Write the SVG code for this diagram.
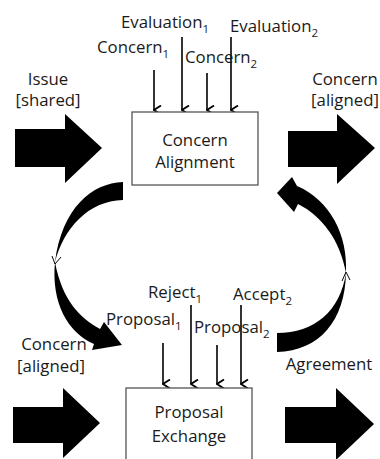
<svg xmlns="http://www.w3.org/2000/svg" width="380" height="459" viewBox="0 0 380 459">
<style>
text{font-family:"Open Sans","Liberation Sans",Arial,sans-serif;font-size:16.8px;fill:#1a1a1a}
.sub{font-size:11.5px}
.box{fill:#fff;stroke:#555;stroke-width:1.3}
.blk{fill:#000}
.vl{stroke:#000;stroke-width:1.6;fill:none;marker-end:url(#ah)}
.chev{stroke:#000;stroke-width:1;fill:none}
</style>
<defs>
<marker id="ah" viewBox="0 0 10 10" refX="5" refY="9" markerWidth="10" markerHeight="10" markerUnits="userSpaceOnUse" orient="auto-start-reverse">
<path d="M0.5,2 L5,9 L9.5,2" stroke="#000" stroke-width="1.8" fill="none"/>
</marker>
</defs>
<rect width="380" height="459" fill="#fff"/>
<g id="connectors">
<polygon class="blk" points="15,129 65,129 65,114 102,148 65,183 65,167 15,167"/>
<polygon class="blk" points="288,131 337,131 337,114 375,148 337,184 337,167 288,167"/>
<polygon class="blk" points="13,407 63,407 63,388 100,423 63,458 63,443 13,443"/>
<polygon class="blk" points="285,407 336,407 336,388 374,424 336,460 336,443 285,443"/>
<path class="blk" d="M123,182 C92,183 62,208 55,262 C64,228 88,201 123,200 Z"/>
<path class="chev" d="M52,256 L55,264 L61,257"/>
<path class="blk" d="M55,262 C51,303 68,333 94,344 L92,350 L122,345 L104,322 L100,329 C80,318 62,300 55,262 Z"/>
<path class="blk" d="M277,352 C320,351 345,320 346,273 C340,311 315,333 277,333 Z"/>
<path class="chev" d="M342,281 L346,272 L350,280"/>
<path class="blk" d="M346,273 C348,235 330,200 297,186 L292,177 L277,193 L294,212 L298,204 C322,216 340,240 346,273 Z"/>
<line class="vl" x1="154" y1="70" x2="154" y2="110"/>
<line class="vl" x1="182" y1="37" x2="182" y2="110"/>
<line class="vl" x1="207" y1="73" x2="207" y2="110"/>
<line class="vl" x1="231" y1="37" x2="231" y2="110"/>
<line class="vl" x1="163" y1="343" x2="163" y2="384"/>
<line class="vl" x1="191" y1="305" x2="191" y2="384"/>
<line class="vl" x1="217" y1="345" x2="217" y2="384"/>
<line class="vl" x1="241" y1="305" x2="241" y2="384"/>
</g>
<g id="concern-alignment">
<rect class="box" x="132" y="112" width="126" height="73"/>
<text x="195" y="146" text-anchor="middle">Concern</text>
<text x="195" y="168" text-anchor="middle">Alignment</text>
</g>
<g id="proposal-exchange">
<rect class="box" x="126" y="388" width="126" height="80"/>
<text x="189" y="418" text-anchor="middle">Proposal</text>
<text x="189" y="442" text-anchor="middle">Exchange</text>
</g>
<g id="labels">
<text x="121" y="28">Evaluation<tspan class="sub" dy="5">1</tspan></text>
<text x="230" y="32">Evaluation<tspan class="sub" dy="5">2</tspan></text>
<text x="97" y="53">Concern<tspan class="sub" dy="5">1</tspan></text>
<text x="185" y="63">Concern<tspan class="sub" dy="5">2</tspan></text>
<text x="48" y="85" text-anchor="middle">Issue</text>
<text x="48" y="106" text-anchor="middle">[shared]</text>
<text x="345" y="85" text-anchor="middle">Concern</text>
<text x="345" y="106" text-anchor="middle">[aligned]</text>
<text x="148" y="298">Reject<tspan class="sub" dy="5">1</tspan></text>
<text x="233" y="300">Accept<tspan class="sub" dy="5">2</tspan></text>
<text x="106" y="325">Proposal<tspan class="sub" dy="5">1</tspan></text>
<text x="194" y="333">Proposal<tspan class="sub" dy="5">2</tspan></text>
<text x="54" y="350" text-anchor="middle">Concern</text>
<text x="51" y="372" text-anchor="middle">[aligned]</text>
<text x="329" y="370" text-anchor="middle">Agreement</text>
</g>
</svg>
